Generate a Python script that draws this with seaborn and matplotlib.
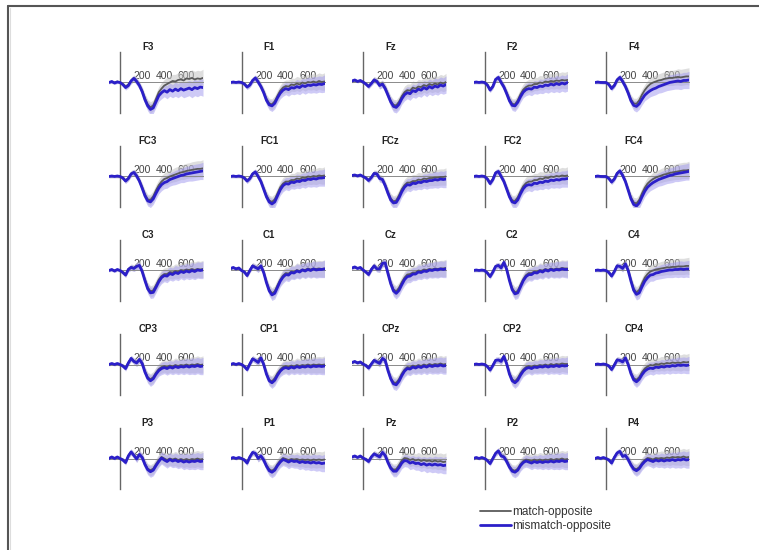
import numpy as np
import pandas as pd
import matplotlib
matplotlib.use("Agg")
import matplotlib.pyplot as plt
import seaborn as sns
from matplotlib.lines import Line2D

sns.set_theme(style="white")
plt.rcParams["font.family"] = ["Liberation Sans", "DejaVu Sans"]

# ---------------- data ----------------
times = [-100, -75, -50, -25, 0, 25, 50, 75, 100, 125, 150, 175, 200, 225, 250, 275, 300,
         325, 350, 375, 400, 425, 450, 475, 500, 525, 550, 575, 600, 625, 650, 675, 700, 725, 750]
electrodes = [["F3", "F1", "Fz", "F2", "F4"],
              ["FC3", "FC1", "FCz", "FC2", "FC4"],
              ["C3", "C1", "Cz", "C2", "C4"],
              ["CP3", "CP1", "CPz", "CP2", "CP4"],
              ["P3", "P1", "Pz", "P2", "P4"]]
conditions = ["match-opposite", "mismatch-opposite"]
tick_values = [200, 400, 600]
tick_labels = ["200", "400", "600"]
sem = [0.3, 0.3, 0.3, 0.3, 0.3, 0.4, 0.5, 0.5, 0.6, 0.6, 0.7, 0.7, 0.8, 0.9, 1.0, 1.1, 1.1, 1.1,
       1.1, 1.2, 1.2, 1.3, 1.3, 1.3, 1.4, 1.4, 1.4, 1.5, 1.5, 1.5, 1.6, 1.6, 1.6, 1.6, 1.7]

F3_mis = [0.0, 0.2, -0.1, 0.1, 0.0, -0.4, -1.0, -0.6, 0.3, 0.8, 0.2, -0.6, -1.8, -3.4, -4.6, -5.3, -5.0, -3.8, -2.6, -2.0, -1.6, -1.9, -1.4, -1.7, -1.3, -1.6, -1.2, -1.5, -1.3, -1.1, -1.4, -1.0, -1.2, -0.9, -1.0]
F3_mat = [0.1, 0.1, 0.0, 0.2, 0.0, -0.3, -0.8, -0.4, 0.4, 0.9, 0.3, -0.5, -1.6, -3.1, -4.3, -4.9, -4.5, -3.2, -1.9, -1.2, -0.6, -0.3, 0.0, 0.3, 0.2, 0.5, 0.6, 0.4, 0.8, 0.7, 0.9, 0.6, 0.8, 0.7, 0.9]
F1_mis = [0.0, 0.1, 0.0, 0.1, 0.0, -0.3, -0.9, -0.5, 0.4, 0.9, 0.1, -0.8, -2.0, -3.5, -4.4, -4.6, -4.1, -3.0, -2.1, -1.5, -1.2, -1.4, -1.0, -1.1, -0.8, -1.0, -0.6, -0.8, -0.5, -0.6, -0.4, -0.5, -0.3, -0.4, -0.2]
F1_mat = [0.1, 0.0, 0.1, 0.0, 0.0, -0.2, -0.8, -0.4, 0.5, 0.8, 0.2, -0.7, -1.8, -3.2, -4.1, -4.3, -3.7, -2.6, -1.6, -1.0, -0.7, -0.8, -0.4, -0.5, -0.2, -0.4, 0.0, -0.2, 0.1, 0.0, 0.2, 0.0, 0.3, 0.1, 0.2]
Fz_mis = [0.3, 0.5, 0.2, 0.4, 0.1, -0.3, -0.8, -0.2, 0.5, 0.2, -0.6, -0.3, -1.2, -2.5, -3.8, -4.7, -4.9, -4.3, -3.2, -2.4, -2.0, -2.2, -1.6, -1.8, -1.3, -1.5, -1.0, -1.3, -0.8, -1.1, -0.7, -0.9, -0.5, -0.7, -0.4]
Fz_mat = [0.2, 0.4, 0.3, 0.3, 0.0, -0.2, -0.7, -0.1, 0.6, 0.3, -0.5, -0.2, -1.0, -2.3, -3.6, -4.4, -4.5, -3.8, -2.7, -1.9, -1.5, -1.6, -1.0, -1.2, -0.8, -0.9, -0.5, -0.7, -0.3, -0.5, -0.2, -0.4, 0.0, -0.2, 0.1]
F2_mis = [0.0, 0.1, 0.0, 0.1, 0.0, -0.5, -1.5, -0.8, 0.6, 1.0, 0.0, -0.9, -2.2, -3.6, -4.5, -4.6, -3.9, -2.8, -1.9, -1.4, -1.2, -1.3, -0.9, -1.0, -0.7, -0.8, -0.5, -0.6, -0.3, -0.5, -0.2, -0.4, -0.1, -0.3, 0.0]
F2_mat = [0.1, 0.0, 0.1, 0.0, 0.0, -0.4, -1.3, -0.7, 0.7, 0.9, 0.1, -0.8, -2.0, -3.3, -4.2, -4.3, -3.5, -2.3, -1.4, -0.9, -0.6, -0.6, -0.3, -0.3, 0.0, -0.1, 0.2, 0.1, 0.3, 0.2, 0.4, 0.3, 0.5, 0.4, 0.5]
F4_mis = [0.0, 0.1, 0.0, 0.0, 0.0, -0.4, -1.2, -0.6, 0.5, 1.0, 0.2, -0.8, -2.1, -3.6, -4.5, -4.7, -4.2, -3.3, -2.5, -2.0, -1.6, -1.3, -1.1, -0.8, -0.6, -0.4, -0.2, 0.0, 0.1, 0.2, 0.3, 0.2, 0.4, 0.4, 0.5]
F4_mat = [0.1, 0.0, 0.1, 0.0, 0.0, -0.3, -1.0, -0.5, 0.6, 1.0, 0.3, -0.7, -1.9, -3.3, -4.1, -4.2, -3.5, -2.4, -1.5, -0.8, -0.3, 0.0, 0.2, 0.4, 0.5, 0.7, 0.8, 0.9, 0.9, 1.0, 1.1, 1.0, 1.1, 1.2, 1.2]

FC3_mis = [0.0, 0.1, 0.0, 0.1, 0.0, -0.3, -0.9, -0.4, 0.5, 0.8, 0.1, -0.9, -2.3, -3.8, -4.8, -5.0, -4.4, -3.3, -2.3, -1.6, -1.2, -1.0, -0.6, -0.4, -0.2, 0.0, 0.2, 0.3, 0.5, 0.6, 0.7, 0.8, 0.9, 1.0, 1.1]
FC3_mat = [0.1, 0.0, 0.1, 0.0, 0.0, -0.2, -0.8, -0.3, 0.6, 0.8, 0.2, -0.8, -2.1, -3.5, -4.5, -4.6, -3.9, -2.7, -1.7, -1.0, -0.5, -0.3, 0.0, 0.2, 0.4, 0.6, 0.8, 0.9, 1.1, 1.2, 1.3, 1.4, 1.5, 1.5, 1.6]
FC1_mis = [0.0, 0.1, 0.0, 0.1, 0.0, -0.3, -0.9, -0.4, 0.5, 0.9, 0.0, -1.0, -2.5, -4.0, -5.0, -5.4, -5.0, -3.8, -2.6, -1.8, -1.4, -1.5, -1.1, -1.2, -0.9, -1.0, -0.7, -0.8, -0.5, -0.6, -0.4, -0.5, -0.3, -0.3, -0.2]
FC1_mat = [0.1, 0.0, 0.1, 0.0, 0.0, -0.2, -0.8, -0.3, 0.6, 0.8, 0.1, -0.9, -2.3, -3.7, -4.7, -5.0, -4.5, -3.3, -2.1, -1.4, -1.0, -1.0, -0.7, -0.7, -0.4, -0.5, -0.2, -0.3, 0.0, -0.1, 0.1, 0.0, 0.2, 0.1, 0.2]
FCz_mis = [0.2, 0.3, 0.1, 0.3, 0.0, -0.3, -0.8, -0.2, 0.6, 0.5, -0.4, -0.6, -1.8, -3.3, -4.6, -5.2, -5.1, -4.2, -3.0, -2.1, -1.6, -1.7, -1.3, -1.4, -1.1, -1.2, -0.9, -1.0, -0.8, -0.8, -0.6, -0.7, -0.5, -0.6, -0.5]
FCz_mat = [0.1, 0.2, 0.2, 0.2, 0.0, -0.2, -0.7, -0.1, 0.7, 0.6, -0.3, -0.5, -1.6, -3.0, -4.3, -4.9, -4.7, -3.7, -2.5, -1.7, -1.2, -1.2, -0.9, -0.9, -0.6, -0.7, -0.4, -0.5, -0.3, -0.3, -0.2, -0.2, -0.1, -0.1, 0.0]
FC2_mis = [0.0, 0.1, 0.0, 0.1, 0.0, -0.5, -1.4, -0.6, 0.7, 1.0, 0.0, -1.0, -2.5, -4.0, -5.0, -5.2, -4.6, -3.4, -2.4, -1.8, -1.6, -1.7, -1.3, -1.4, -1.1, -1.2, -0.9, -1.0, -0.7, -0.8, -0.6, -0.7, -0.5, -0.5, -0.4]
FC2_mat = [0.1, 0.0, 0.1, 0.0, 0.0, -0.4, -1.2, -0.5, 0.8, 0.9, 0.1, -0.9, -2.3, -3.7, -4.7, -4.8, -4.1, -2.9, -1.9, -1.3, -1.0, -1.0, -0.7, -0.7, -0.4, -0.5, -0.2, -0.3, 0.0, -0.1, 0.1, 0.0, 0.2, 0.1, 0.2]
FC4_mis = [0.0, 0.1, 0.0, 0.0, 0.0, -0.4, -1.1, -0.5, 0.6, 1.1, 0.2, -1.0, -2.7, -4.4, -5.5, -5.8, -5.2, -4.0, -2.9, -2.1, -1.6, -1.2, -0.9, -0.6, -0.4, -0.2, 0.0, 0.2, 0.3, 0.5, 0.6, 0.7, 0.8, 0.9, 1.0]
FC4_mat = [0.1, 0.0, 0.1, 0.0, 0.0, -0.3, -1.0, -0.4, 0.7, 1.1, 0.3, -0.9, -2.5, -4.1, -5.1, -5.3, -4.6, -3.3, -2.2, -1.4, -0.9, -0.5, -0.2, 0.0, 0.2, 0.4, 0.5, 0.7, 0.8, 0.9, 1.0, 1.1, 1.2, 1.2, 1.3]

C3_mis = [0.0, 0.2, -0.1, 0.2, 0.0, -0.4, -0.9, 0.2, 0.6, 0.4, 0.8, 1.0, -0.2, -2.0, -3.6, -4.4, -4.3, -3.3, -2.2, -1.4, -1.0, -1.1, -0.6, -0.8, -0.4, -0.6, -0.2, -0.4, -0.1, -0.3, 0.0, -0.2, 0.1, 0.0, 0.1]
C3_mat = [0.1, 0.1, 0.0, 0.1, 0.0, -0.3, -0.8, 0.3, 0.7, 0.5, 0.9, 1.0, -0.1, -1.8, -3.3, -4.1, -3.9, -2.9, -1.8, -1.1, -0.7, -0.7, -0.3, -0.4, -0.1, -0.2, 0.1, 0.0, 0.2, 0.1, 0.3, 0.1, 0.3, 0.2, 0.3]
C1_mis = [0.4, 0.6, 0.3, 0.5, 0.0, -0.3, -1.0, 0.0, 0.9, 0.6, 0.3, 0.9, -0.4, -2.4, -4.0, -4.8, -4.5, -3.3, -2.1, -1.3, -0.8, -0.9, -0.4, -0.5, -0.1, -0.3, 0.1, -0.1, 0.2, 0.0, 0.3, 0.1, 0.2, 0.2, 0.3]
C1_mat = [0.3, 0.5, 0.4, 0.4, 0.0, -0.2, -0.9, 0.1, 1.0, 0.7, 0.4, 0.9, -0.3, -2.2, -3.7, -4.5, -4.1, -2.9, -1.8, -1.0, -0.5, -0.6, -0.2, -0.3, 0.1, -0.1, 0.2, 0.1, 0.4, 0.2, 0.4, 0.3, 0.4, 0.3, 0.4]
Cz_mis = [0.5, 0.7, 0.4, 0.6, 0.1, -0.3, -0.8, 0.2, 0.9, 0.3, 0.3, 1.4, 1.5, -0.6, -2.6, -4.0, -4.5, -3.9, -2.8, -1.8, -1.2, -1.1, -0.7, -0.7, -0.3, -0.4, -0.1, -0.2, 0.1, 0.0, 0.2, 0.1, 0.3, 0.2, 0.3]
Cz_mat = [0.4, 0.6, 0.5, 0.5, 0.0, -0.2, -0.7, 0.3, 1.0, 0.4, 0.4, 1.4, 1.5, -0.4, -2.4, -3.7, -4.1, -3.4, -2.3, -1.4, -0.8, -0.7, -0.4, -0.4, 0.0, -0.1, 0.2, 0.1, 0.3, 0.2, 0.4, 0.3, 0.4, 0.4, 0.5]
C2_mis = [0.0, 0.1, 0.0, 0.1, 0.0, -0.5, -1.2, -0.3, 0.8, 1.0, 0.5, 1.6, 0.2, -2.0, -3.8, -4.6, -4.4, -3.2, -2.0, -1.2, -0.8, -0.8, -0.4, -0.5, -0.1, -0.3, 0.1, -0.1, 0.2, 0.0, 0.2, 0.1, 0.3, 0.2, 0.2]
C2_mat = [0.1, 0.0, 0.1, 0.0, 0.0, -0.4, -1.1, -0.2, 0.9, 1.0, 0.6, 1.5, 0.3, -1.8, -3.5, -4.3, -4.0, -2.8, -1.7, -0.9, -0.5, -0.5, -0.2, -0.2, 0.1, 0.0, 0.3, 0.1, 0.4, 0.2, 0.4, 0.3, 0.5, 0.4, 0.4]
C4_mis = [0.0, 0.1, 0.0, 0.1, 0.0, -0.4, -1.1, -0.2, 0.9, 0.8, 0.4, 1.3, 0.0, -2.1, -3.9, -4.7, -4.4, -3.2, -2.1, -1.4, -0.9, -0.8, -0.5, -0.4, -0.2, -0.1, 0.0, 0.1, 0.1, 0.2, 0.2, 0.3, 0.2, 0.3, 0.3]
C4_mat = [0.1, 0.0, 0.1, 0.0, 0.0, -0.3, -1.0, -0.1, 1.0, 0.8, 0.5, 1.3, 0.1, -1.9, -3.6, -4.3, -3.8, -2.5, -1.4, -0.7, -0.2, 0.0, 0.2, 0.3, 0.4, 0.5, 0.6, 0.6, 0.7, 0.7, 0.8, 0.8, 0.8, 0.9, 0.9]

CP3_mis = [0.0, 0.2, 0.0, 0.2, 0.0, -0.3, -0.8, 0.3, 1.2, 0.6, 0.3, 1.0, 0.2, -1.5, -2.7, -3.2, -2.8, -1.9, -1.2, -0.8, -0.6, -0.8, -0.5, -0.7, -0.4, -0.6, -0.4, -0.5, -0.3, -0.5, -0.3, -0.4, -0.2, -0.4, -0.3]
CP3_mat = [0.1, 0.1, 0.1, 0.1, 0.0, -0.2, -0.7, 0.4, 1.2, 0.7, 0.4, 1.0, 0.3, -1.3, -2.5, -2.9, -2.5, -1.6, -0.9, -0.5, -0.3, -0.5, -0.2, -0.4, -0.1, -0.3, -0.1, -0.2, 0.0, -0.2, 0.0, -0.1, 0.1, -0.1, 0.0]
CP1_mis = [0.0, 0.2, 0.0, 0.2, 0.0, -0.4, -1.0, 0.1, 1.1, 0.8, 0.4, 1.3, 0.0, -1.9, -3.2, -3.6, -3.1, -2.1, -1.3, -0.8, -0.6, -0.8, -0.5, -0.7, -0.4, -0.6, -0.4, -0.5, -0.3, -0.5, -0.3, -0.4, -0.3, -0.4, -0.3]
CP1_mat = [0.1, 0.1, 0.1, 0.1, 0.0, -0.3, -0.9, 0.2, 1.2, 0.8, 0.5, 1.3, 0.1, -1.7, -3.0, -3.3, -2.7, -1.7, -1.0, -0.5, -0.3, -0.5, -0.2, -0.4, -0.1, -0.3, -0.1, -0.2, 0.0, -0.2, 0.0, -0.1, 0.0, -0.1, 0.0]
CPz_mis = [0.4, 0.6, 0.3, 0.5, 0.1, -0.2, -0.7, 0.1, 0.8, 0.5, 0.2, 1.2, 0.8, -1.2, -2.8, -3.8, -4.0, -3.3, -2.2, -1.3, -0.8, -0.9, -0.5, -0.7, -0.4, -0.6, -0.3, -0.5, -0.2, -0.4, -0.2, -0.3, -0.1, -0.3, -0.2]
CPz_mat = [0.3, 0.5, 0.4, 0.4, 0.0, -0.1, -0.6, 0.2, 0.9, 0.6, 0.3, 1.2, 0.9, -1.0, -2.6, -3.5, -3.6, -2.9, -1.8, -1.0, -0.5, -0.6, -0.2, -0.4, -0.1, -0.3, 0.0, -0.2, 0.1, -0.1, 0.1, 0.0, 0.2, 0.0, 0.1]
CP2_mis = [0.0, 0.1, 0.0, 0.1, 0.0, -0.4, -1.1, -0.2, 0.8, 0.9, 0.6, 1.6, 0.1, -1.9, -3.2, -3.6, -3.1, -2.1, -1.3, -0.8, -0.6, -0.8, -0.5, -0.6, -0.4, -0.5, -0.3, -0.5, -0.3, -0.4, -0.2, -0.4, -0.2, -0.3, -0.2]
CP2_mat = [0.1, 0.0, 0.1, 0.0, 0.0, -0.3, -1.0, -0.1, 0.9, 0.9, 0.7, 1.6, 0.2, -1.7, -2.9, -3.3, -2.7, -1.7, -1.0, -0.5, -0.3, -0.5, -0.2, -0.3, -0.1, -0.2, 0.0, -0.2, 0.1, -0.1, 0.1, 0.0, 0.2, 0.1, 0.1]
CP4_mis = [0.0, 0.1, 0.0, 0.1, 0.0, -0.3, -1.0, -0.1, 0.9, 0.8, 0.5, 1.3, 0.0, -1.8, -3.0, -3.4, -2.9, -2.0, -1.3, -0.9, -0.7, -0.8, -0.5, -0.6, -0.4, -0.5, -0.3, -0.4, -0.2, -0.3, -0.1, -0.2, -0.1, -0.2, -0.1]
CP4_mat = [0.1, 0.0, 0.1, 0.0, 0.0, -0.2, -0.9, 0.0, 1.0, 0.8, 0.6, 1.3, 0.1, -1.6, -2.7, -3.0, -2.5, -1.5, -0.8, -0.4, -0.1, -0.2, 0.1, 0.0, 0.2, 0.1, 0.3, 0.2, 0.4, 0.3, 0.4, 0.3, 0.5, 0.4, 0.5]

P3_mis = [0.0, 0.3, 0.0, 0.3, 0.0, -0.3, -0.8, 0.5, 1.3, 0.6, -0.1, 0.8, 0.2, -1.2, -2.2, -2.6, -2.3, -1.4, -0.6, 0.1, -0.3, -0.6, -0.2, -0.5, -0.3, -0.6, -0.4, -0.7, -0.5, -0.7, -0.5, -0.6, -0.4, -0.6, -0.5]
P3_mat = [0.1, 0.2, 0.1, 0.2, 0.0, -0.2, -0.7, 0.6, 1.3, 0.7, 0.0, 0.8, 0.3, -1.0, -2.0, -2.3, -2.0, -1.1, -0.3, 0.3, 0.0, -0.3, 0.0, -0.2, 0.0, -0.3, -0.1, -0.3, -0.1, -0.3, -0.1, -0.2, 0.0, -0.2, -0.1]
P1_mis = [0.0, 0.2, 0.0, 0.2, 0.0, -0.3, -0.9, 0.3, 1.2, 1.0, 0.0, 0.5, -0.3, -1.5, -2.4, -2.7, -2.3, -1.4, -0.7, -0.2, -0.4, -0.7, -0.4, -0.6, -0.5, -0.8, -0.6, -0.8, -0.7, -0.9, -0.7, -0.9, -0.8, -1.0, -0.9]
P1_mat = [0.1, 0.1, 0.1, 0.1, 0.0, -0.2, -0.8, 0.4, 1.2, 1.0, 0.1, 0.5, -0.2, -1.3, -2.1, -2.4, -2.0, -1.1, -0.4, 0.1, -0.1, -0.3, -0.1, -0.2, -0.1, -0.3, -0.2, -0.3, -0.2, -0.4, -0.2, -0.3, -0.2, -0.3, -0.2]
Pz_mis = [0.3, 0.5, 0.2, 0.5, 0.1, -0.2, -0.6, 0.3, 0.9, 0.6, 0.3, 1.2, 0.6, -0.8, -1.9, -2.5, -2.5, -1.8, -0.9, -0.4, -0.5, -0.9, -0.7, -1.0, -0.9, -1.2, -1.0, -1.3, -1.1, -1.3, -1.1, -1.3, -1.2, -1.4, -1.3]
Pz_mat = [0.2, 0.4, 0.3, 0.4, 0.0, -0.1, -0.5, 0.4, 1.0, 0.7, 0.4, 1.2, 0.7, -0.6, -1.7, -2.2, -2.1, -1.3, -0.4, 0.1, 0.0, -0.3, -0.1, -0.4, -0.2, -0.5, -0.3, -0.5, -0.4, -0.6, -0.4, -0.6, -0.5, -0.7, -0.6]
P2_mis = [0.0, 0.2, 0.0, 0.2, 0.0, -0.4, -1.0, 0.0, 1.0, 1.5, 0.5, 0.3, -0.6, -1.7, -2.5, -2.7, -2.3, -1.4, -0.8, -0.5, -0.7, -0.9, -0.6, -0.8, -0.6, -0.8, -0.6, -0.7, -0.5, -0.7, -0.5, -0.6, -0.4, -0.6, -0.5]
P2_mat = [0.1, 0.1, 0.1, 0.1, 0.0, -0.3, -0.9, 0.1, 1.1, 1.5, 0.6, 0.4, -0.4, -1.5, -2.2, -2.4, -2.0, -1.1, -0.5, -0.2, -0.3, -0.5, -0.2, -0.4, -0.2, -0.4, -0.2, -0.3, -0.1, -0.3, -0.1, -0.2, 0.0, -0.2, -0.1]
P4_mis = [0.0, 0.2, 0.0, 0.2, 0.0, -0.3, -0.9, 0.2, 1.1, 1.4, 0.4, 0.6, -0.2, -1.3, -2.1, -2.4, -2.0, -1.2, -0.6, -0.2, -0.4, -0.6, -0.3, -0.5, -0.3, -0.5, -0.3, -0.4, -0.2, -0.4, -0.2, -0.3, -0.1, -0.3, -0.2]
P4_mat = [0.1, 0.1, 0.1, 0.1, 0.0, -0.2, -0.8, 0.3, 1.1, 1.4, 0.5, 0.6, -0.1, -1.1, -1.9, -2.1, -1.7, -0.9, -0.3, 0.1, 0.0, -0.2, 0.1, 0.0, 0.1, 0.0, 0.2, 0.1, 0.3, 0.2, 0.3, 0.2, 0.4, 0.2, 0.3]

waves = {
    "F3": (F3_mat, F3_mis), "F1": (F1_mat, F1_mis), "Fz": (Fz_mat, Fz_mis),
    "F2": (F2_mat, F2_mis), "F4": (F4_mat, F4_mis),
    "FC3": (FC3_mat, FC3_mis), "FC1": (FC1_mat, FC1_mis), "FCz": (FCz_mat, FCz_mis),
    "FC2": (FC2_mat, FC2_mis), "FC4": (FC4_mat, FC4_mis),
    "C3": (C3_mat, C3_mis), "C1": (C1_mat, C1_mis), "Cz": (Cz_mat, Cz_mis),
    "C2": (C2_mat, C2_mis), "C4": (C4_mat, C4_mis),
    "CP3": (CP3_mat, CP3_mis), "CP1": (CP1_mat, CP1_mis), "CPz": (CPz_mat, CPz_mis),
    "CP2": (CP2_mat, CP2_mis), "CP4": (CP4_mat, CP4_mis),
    "P3": (P3_mat, P3_mis), "P1": (P1_mat, P1_mis), "Pz": (Pz_mat, Pz_mis),
    "P2": (P2_mat, P2_mis), "P4": (P4_mat, P4_mis),
}

# ---------------- style ----------------
line_colors = {"match-opposite": "#5a5a5a", "mismatch-opposite": "#2b1fc9"}
band_colors = {"match-opposite": "#c4c4c4", "mismatch-opposite": "#a79ff0"}
line_widths = {"match-opposite": 1.3, "mismatch-opposite": 2.0}

W, H = 759, 550
fig = plt.figure(figsize=(W / 100, H / 100), dpi=100)

t_arr = np.array(times, dtype=float)
s_arr = np.array(sem)

for r, row in enumerate(electrodes):
    for c, name in enumerate(row):
        left_px = 109 + 121.5 * c
        top_px = 52 + 94 * r
        ax = fig.add_axes([left_px / W, 1 - (top_px + 61) / H, 94 / W, 61 / H])
        ax.set_facecolor("none")
        mat, mis = waves[name]
        df = pd.DataFrame({
            "time": times * 2,
            "amp": list(mat) + list(mis),
            "cond": [conditions[0]] * len(times) + [conditions[1]] * len(times),
        })
        for cond in conditions:
            y = df.loc[df["cond"] == cond, "amp"].to_numpy()
            ax.fill_between(t_arr, y - s_arr, y + s_arr, color=band_colors[cond],
                            alpha=0.55, lw=0, zorder=1)
        for cond in conditions:
            sns.lineplot(data=df[df["cond"] == cond], x="time", y="amp",
                         color=line_colors[cond], lw=line_widths[cond], ax=ax,
                         legend=False, zorder=3)
        ax.set_xlim(-100, 750)
        ax.set_ylim(-6, 6)
        ax.set_xlabel("")
        ax.set_ylabel("")
        for sp in ["right", "bottom"]:
            ax.spines[sp].set_visible(False)
        ax.spines["left"].set_position(("data", 0))
        ax.spines["left"].set_color("#666666")
        ax.spines["left"].set_linewidth(1.0)
        ax.spines["left"].set_zorder(2)
        ax.spines["top"].set_position(("data", 0))
        ax.spines["top"].set_color("#8a8a8a")
        ax.spines["top"].set_linewidth(0.7)
        ax.spines["top"].set_zorder(2)
        ax.xaxis.set_ticks_position("top")
        ax.set_xticks(tick_values)
        ax.set_xticklabels(tick_labels)
        ax.tick_params(axis="x", length=0, pad=1.0, labelsize=7.5, colors="#444444")
        ax.set_yticks([])
        ax.text(250, 1.0, name, transform=ax.get_xaxis_transform(),
                ha="center", va="bottom", fontsize=7, fontweight="bold", color="#222222")

# legend
handles = [Line2D([0], [0], color=line_colors[c], lw=line_widths[c]) for c in conditions]
fig.legend(handles, conditions, loc="upper left", bbox_to_anchor=(474 / W, 1 - 500 / H),
           frameon=False, fontsize=8.5, handlelength=2.6, handletextpad=0.15,
           labelspacing=0.15, borderpad=0, labelcolor="#333333")

# frame edges
fig.add_artist(Line2D([7.5 / W, 7.5 / W], [0, 1 - 5.5 / H], color="#555555", lw=1.5,
                      transform=fig.transFigure))
fig.add_artist(Line2D([7.5 / W, 1], [1 - 5.5 / H, 1 - 5.5 / H], color="#555555", lw=1.5,
                      transform=fig.transFigure))
fig.add_artist(Line2D([10 / W, 10 / W], [0, 1 - 8 / H], color="#dddddd", lw=0.8,
                      transform=fig.transFigure))

fig.savefig("out.png", dpi=100, facecolor="white")
